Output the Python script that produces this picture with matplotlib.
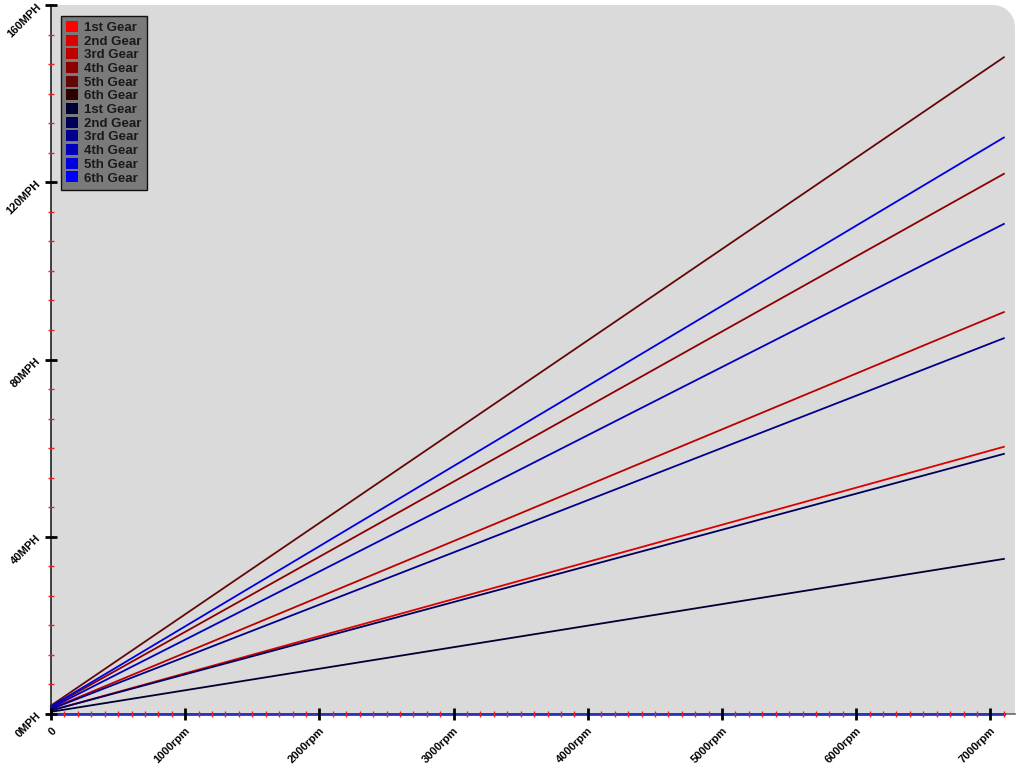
import numpy as np
import matplotlib.pyplot as plt
from matplotlib.path import Path
from matplotlib.patches import PathPatch, Patch
from matplotlib.ticker import MultipleLocator

plt.rcParams['font.family'] = ['Liberation Sans', 'DejaVu Sans']

rpm = [0, 7100]
labels = ["1st Gear", "2nd Gear", "3rd Gear", "4th Gear", "5th Gear", "6th Gear"]

red_colors = ["#ff0000", "#dd0000", "#bb0000", "#8c0000", "#630808", "#2e0000"]
red_start = [0.0, 0.8, 1.2, 1.6, 1.9, 0.0]
red_end = [0.0, 60.3, 90.7, 121.9, 148.2, 0.0]

blue_colors = ["#000033", "#00005c", "#00008c", "#0000bb", "#0000dd", "#0000ff"]
blue_start = [0.5, 0.8, 1.1, 1.4, 1.7, 0.0]
blue_end = [35.0, 58.7, 84.8, 110.6, 130.1, 0.0]

xticks = [0, 1000, 2000, 3000, 4000, 5000, 6000, 7000]
xticklabels = ["0", "1000rpm", "2000rpm", "3000rpm", "4000rpm", "5000rpm", "6000rpm", "7000rpm"]
yticks = [0, 40, 80, 120, 160]
yticklabels = ["0MPH", "40MPH", "80MPH", "120MPH", "160MPH"]

fig = plt.figure(figsize=(10.24, 7.68), dpi=100)
L, R, B, T = 51/1024, 1015/1024, 1-714/768, 1-5/768
ax = fig.add_axes([L, B, R-L, T-B])
ax.patch.set_visible(False)

# grey plot area with rounded top right corner
r = 22
x0, x1, y0, y1 = 51, 1015, 768-714, 768-5
th = np.linspace(0, np.pi/2, 20)
pts = [(x0, y0), (x1, y0), (x1, y1-r)]
pts += [(x1-r+r*np.cos(t), y1-r+r*np.sin(t)) for t in th]
pts += [(x0, y1), (x0, y0)]
pts = [(px/1024, py/768) for px, py in pts]
bg = PathPatch(Path(pts), facecolor="#dadada", edgecolor="none",
               transform=fig.transFigure, zorder=0, clip_on=False)
ax.add_patch(bg)

for i in range(6):
    ax.plot(rpm, [red_start[i], red_end[i]], color=red_colors[i], lw=1.3, clip_on=False, zorder=2)
for i in range(6):
    if i == 5:
        ax.plot(rpm, [blue_start[i], blue_end[i]], color="#2535c8", lw=2.0,
                clip_on=False, zorder=2.7)
    else:
        ax.plot(rpm, [blue_start[i], blue_end[i]], color=blue_colors[i], lw=1.3,
                clip_on=False, zorder=2)

ax.set_xlim(0, 7183)
ax.set_ylim(0, 160)
ax.xaxis.set_zorder(3)
ax.yaxis.set_zorder(3)

ax.set_xticks(xticks)
ax.set_xticklabels(xticklabels, rotation=45, ha="right", va="top", rotation_mode="anchor",
                   fontsize=8, fontweight="bold")
ax.set_yticks(yticks)
ax.set_yticklabels(yticklabels, rotation=45, ha="right", va="center", rotation_mode="anchor",
                   fontsize=8, fontweight="bold")
ax.xaxis.set_minor_locator(MultipleLocator(100))
ax.yaxis.set_minor_locator(MultipleLocator(40/6))
ax.tick_params(which="major", direction="inout", length=9, width=2, color="black", pad=4)
ax.tick_params(which="minor", direction="inout", length=5, width=1, color="#ee2222")

for s in ["top", "right"]:
    ax.spines[s].set_visible(False)
ax.spines["left"].set_color("#222222")
ax.spines["bottom"].set_color("#666666")
ax.spines["left"].set_linewidth(1.2)
ax.spines["bottom"].set_linewidth(1.2)

handles = [Patch(facecolor=c, edgecolor="none") for c in red_colors + blue_colors]
leg = ax.legend(handles, labels + labels, loc="upper left", bbox_to_anchor=(0.01, 0.985),
                prop={"size": 9.5, "weight": "bold"}, labelspacing=0.05, handlelength=0.9,
                handleheight=0.9, handletextpad=0.5, borderpad=0.4, fancybox=False,
                framealpha=1, borderaxespad=0)
leg.get_frame().set_facecolor("#7a7a7a")
leg.get_frame().set_edgecolor("#111111")
leg.set_zorder(5)
for t in leg.get_texts():
    t.set_color("#1a1a1a")

fig.savefig("out.png", dpi=100)
